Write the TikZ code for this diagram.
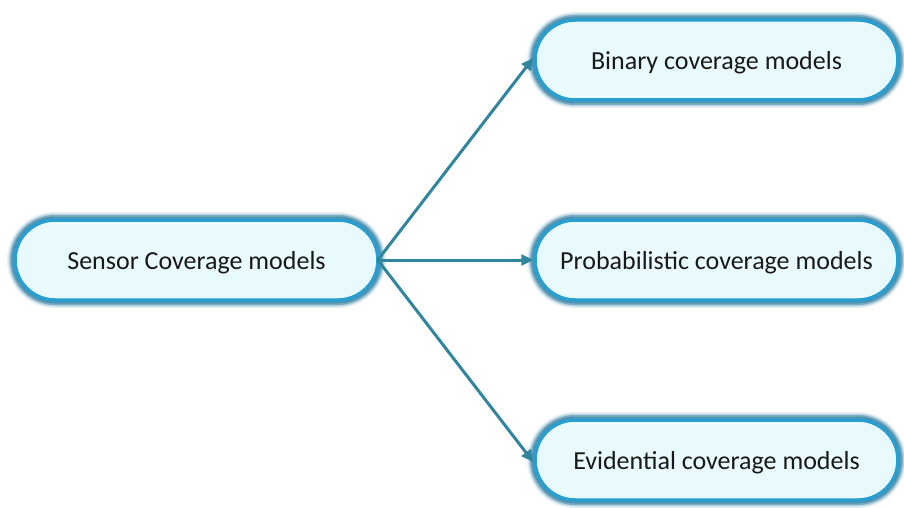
\documentclass[tikz,border=0pt]{standalone}
\usepackage{fontspec}
\setmainfont{Carlito}
\usetikzlibrary{arrows.meta}
\definecolor{boxfill}{HTML}{E8FAFD}
\definecolor{boxline}{HTML}{2A9ECF}
\definecolor{boxglow}{HTML}{3A87A8}
\definecolor{linkcol}{HTML}{31859C}
\tikzset{
  model/.style={
    rectangle, rounded corners=40pt, minimum width=363pt, minimum height=80pt,
    fill=boxfill, draw=boxline, line width=3.5pt, inner sep=0pt,
    text depth=0pt,
    font=\fontsize{26}{30}\selectfont, text=black!90,
    preaction={draw=boxglow, draw opacity=0.12, line width=16pt, fill=none},
    preaction={draw=boxglow, draw opacity=0.25, line width=13pt, fill=none},
    preaction={draw=boxglow, draw opacity=0.5, line width=10pt, fill=none},
    preaction={draw=boxglow, draw opacity=0.65, line width=7pt, fill=none}},
  link/.style={draw=linkcol, line width=3pt,
    -{Triangle[length=12pt,width=11pt]}}
}
\begin{document}
\begin{tikzpicture}[x=1pt,y=-1pt]
  \fill[white] (0,0) rectangle (904,508);
  \useasboundingbox (0,0) rectangle (904,508);
  \node[model] (root) at (196.5,260) {Sensor Coverage models};
  \node[model] (bin)  at (716.5,60)  {Binary coverage models};
  \node[model] (prob) at (716.5,260) {Probabilistic coverage models};
  \node[model] (evid) at (716.5,460) {Evidential coverage models};
  \coordinate (src) at ([xshift=-2pt]root.east);
  \draw[link] (src) -- ([yshift=2pt]bin.west);
  \draw[link] (src) -- (prob.west);
  \draw[link] (src) -- ([yshift=-2pt]evid.west);
\end{tikzpicture}
\end{document}
